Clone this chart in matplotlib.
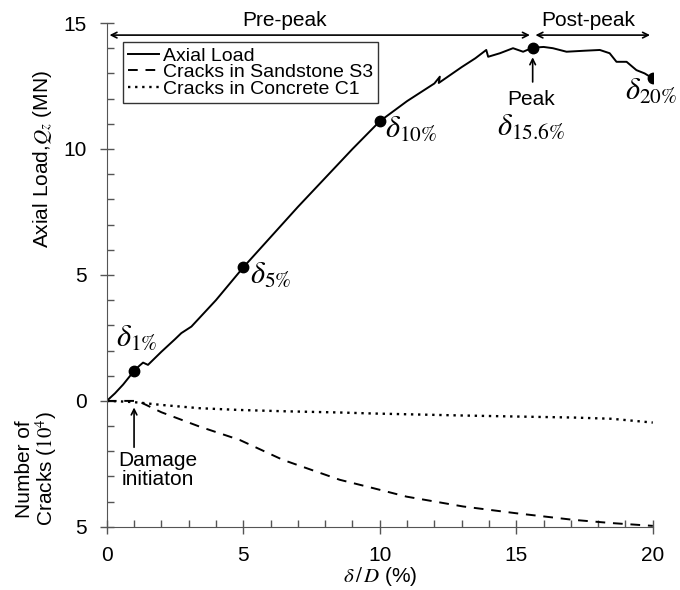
import numpy as np
import matplotlib.pyplot as plt
from matplotlib.ticker import FixedLocator, FixedFormatter, MultipleLocator

plt.rcParams['font.family'] = ['Liberation Sans', 'DejaVu Sans']
plt.rcParams['mathtext.fontset'] = 'stix'

# axial load vs delta/D
load_x = [0, 0.3, 0.6, 1.0, 1.2, 1.33, 1.51, 2.0, 2.5, 2.73, 3.1, 4.0, 5.0, 6.0, 7.0, 8.0, 9.0,
          10.0, 11.0, 12.0, 12.2, 12.16, 13.0, 13.5, 13.9, 13.97, 14.4, 14.88, 15.25, 15.6,
          16.0, 16.34, 16.84, 17.5, 18.06, 18.42, 18.67, 19.04, 19.4, 19.7, 20.0]
load_y = [0, 0.3, 0.65, 1.19, 1.4, 1.52, 1.43, 1.95, 2.45, 2.69, 2.95, 4.0, 5.3, 6.5, 7.7, 8.85, 10.0,
          11.1, 11.9, 12.6, 12.87, 12.62, 13.25, 13.6, 13.93, 13.66, 13.8, 14.0, 13.86, 14.02,
          14.05, 14.0, 13.86, 13.9, 13.93, 13.8, 13.46, 13.46, 13.13, 13.0, 12.8]

# number of cracks (1e4), plotted downward
crack_x = [0, 0.5, 1.0, 1.31, 2.0, 3.4, 4.87, 6.45, 8.53, 9.75, 10.98, 13.05, 15.0, 17.08, 18.5, 20.0]
sand = [0, 0, 0, 0.09, 0.45, 1.02, 1.55, 2.34, 3.13, 3.46, 3.8, 4.19, 4.46, 4.72, 4.85, 4.96]
conc = [0, 0.02, 0.05, 0.08, 0.16, 0.29, 0.36, 0.41, 0.46, 0.5, 0.53, 0.58, 0.62, 0.66, 0.71, 0.86]

# marked points
pt_x = [1.0, 5.0, 10.0, 15.6, 20.0]
pt_y = [1.19, 5.3, 11.1, 14.02, 12.8]

fig = plt.figure(figsize=(6.8, 5.9), dpi=100)
ax = fig.add_axes([0.157, 0.107, 0.803, 0.854])

ax.plot(load_x, load_y, color='black', lw=1.4, label='Axial Load')
ax.plot(crack_x, -np.array(sand), color='black', lw=1.4, ls=(0, (5, 4)), label='Cracks in Sandstone S3')
ax.plot(crack_x, -np.array(conc), color='black', lw=1.7, ls=(0, (1, 2.0)), label='Cracks in Concrete C1')
ax.plot(pt_x, pt_y, 'o', color='black', ms=7.5, zorder=5)

ax.set_xlim(0, 20)
ax.set_ylim(-5, 15)
ax.spines['top'].set_visible(False)
ax.spines['right'].set_visible(False)
for s in ['left', 'bottom']:
    ax.spines[s].set_color('#555555')
ax.yaxis.set_major_locator(FixedLocator([-5, 0, 5, 10, 15]))
ax.yaxis.set_major_formatter(FixedFormatter(['5', '0', '5', '10', '15']))
ax.yaxis.set_minor_locator(MultipleLocator(1))
ax.xaxis.set_major_locator(MultipleLocator(5))
ax.xaxis.set_minor_locator(MultipleLocator(1))
ax.tick_params(which='major', direction='inout', length=10, labelsize=15, width=1, color='#555555')
ax.tick_params(which='minor', direction='in', length=5, width=1, color='#555555')
ax.tick_params(axis='x', which='major', pad=9)
ax.tick_params(axis='y', which='major', pad=9.5)
ax.set_xlabel(r'$\delta\,/\,D$ (%)', fontsize=15, labelpad=0)

ax.text(-2.34, 9.6, r'Axial Load,$Q_z$ (MN)', rotation=90, fontsize=15, ha='center', va='center')
ax.text(-2.55, -2.7, 'Number of\nCracks ($10^4$)', rotation=90, fontsize=15, ha='center', va='center',
        linespacing=1.0)

# pre/post peak arrows
ax.annotate('', xy=(0, 14.52), xytext=(15.6, 14.52),
            arrowprops=dict(arrowstyle='<->', color='black', lw=1.2), annotation_clip=False)
ax.annotate('', xy=(15.6, 14.52), xytext=(20, 14.52),
            arrowprops=dict(arrowstyle='<->', color='black', lw=1.2), annotation_clip=False)
ax.text(6.5, 15.08, 'Pre-peak', fontsize=15, ha='center', va='center')
ax.text(17.64, 15.08, 'Post-peak', fontsize=15, ha='center', va='center')

ax.annotate('', xy=(15.6, 13.75), xytext=(15.6, 12.55),
            arrowprops=dict(arrowstyle='->', color='black', lw=1.2))
ax.text(15.55, 11.95, 'Peak', fontsize=15, ha='center', va='center')
ax.text(15.55, 10.85, r'$\delta_{15.6\%}$', fontsize=22, ha='center', va='center')

ax.annotate('', xy=(1.0, -0.15), xytext=(1.0, -1.95),
            arrowprops=dict(arrowstyle='->', color='black', lw=1.2))
ax.text(1.87, -2.75, 'Damage\ninitiaton', fontsize=15, ha='center', va='center', linespacing=1.0)

ax.text(1.1, 2.45, r'$\delta_{1\%}$', fontsize=22, ha='center', va='center')
ax.text(5.25, 4.95, r'$\delta_{5\%}$', fontsize=22, ha='left', va='center')
ax.text(10.2, 10.75, r'$\delta_{10\%}$', fontsize=22, ha='left', va='center')
ax.text(19.95, 12.25, r'$\delta_{20\%}$', fontsize=22, ha='center', va='center')

leg = ax.legend(loc='upper left', bbox_to_anchor=(0.03, 0.962), fontsize=14, frameon=True,
                fancybox=False, edgecolor='black', handlelength=1.6, handletextpad=0.2,
                borderpad=0.25, labelspacing=-0.05, borderaxespad=0)
leg.get_frame().set_linewidth(1.0)

fig.savefig('out.png', dpi=100)
